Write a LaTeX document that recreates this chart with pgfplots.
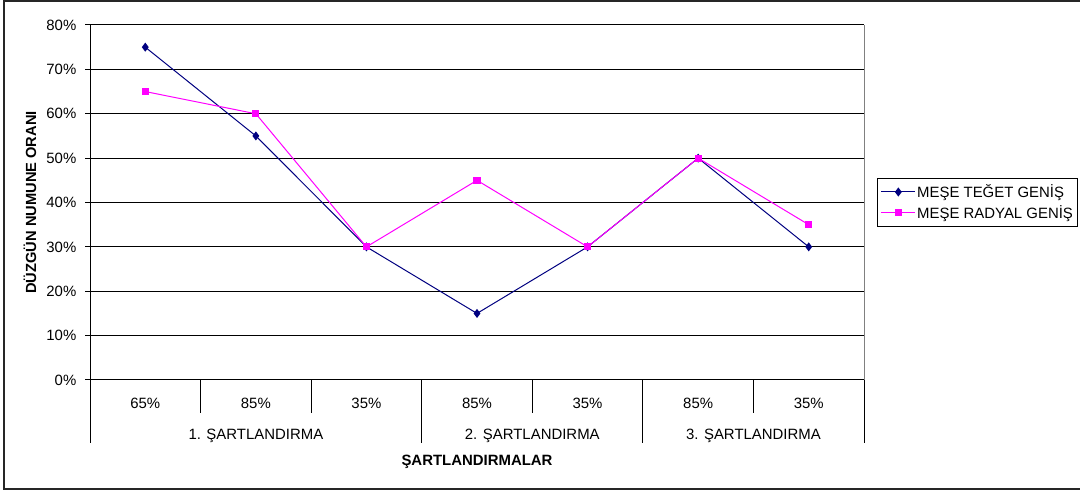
\documentclass[border=0pt]{standalone}
\usepackage{pgfplots}
\pgfplotsset{compat=1.18}
\usepackage{fontspec}
\setmainfont{Liberation Sans}

\definecolor{tegetblue}{RGB}{0,0,128}
\definecolor{radyalmag}{RGB}{255,0,255}

\begin{document}
\begin{tikzpicture}[x=0.75pt,y=0.75pt,font=\fontsize{11.2}{13.4}\selectfont]
\useasboundingbox (0,0) rectangle (1080,491);
% chart frame (open on the right)
\draw[line width=1.4pt,black!85] (1090,490) -- (4,490) -- (4,2) -- (1090,2);

\begin{axis}[
  at={(67.5pt,83.25pt)}, anchor=south west,
  width=580.5pt, height=266.25pt, scale only axis,
  xmin=0, xmax=7, ymin=0, ymax=80,
  axis x line*=bottom, axis y line*=left,
  axis line style={black,line width=0.75pt},
  xtick=\empty,
  ytick={0,10,...,80},
  yticklabels={0\%,10\%,20\%,30\%,40\%,50\%,60\%,70\%,80\%},
  yticklabel style={xshift=-3pt},
  tick align=outside, major tick length=3.75pt,
  tick style={black,line width=0.75pt},
  ymajorgrids, grid style={black,line width=0.75pt},
  clip=false,
  legend style={at={(1.0168,0.569)}, anchor=north west, draw=black,
    line width=0.75pt, fill=white, inner xsep=2.5pt, inner ysep=3.5pt,
    row sep=2.4pt, font=\fontsize{11.2}{13.4}\selectfont,
    nodes={inner sep=1pt}},
  legend cell align=left,
  legend image code/.code={%
    \draw[#1,mark=none] (0pt,0pt) -- (25.5pt,0pt);
    \draw[#1,only marks] plot coordinates {(12.75pt,0pt)};},
]
% plot area right border
\draw[gray,line width=0.75pt] (rel axis cs:1,0) -- (rel axis cs:1,1);

\addplot[tegetblue, line width=0.75pt, mark=diamond*, mark size=2.8pt,
  mark options={solid,fill=tegetblue,draw=tegetblue}]
  coordinates {(0.5,75) (1.5,55) (2.5,30) (3.5,15) (4.5,30) (5.5,50) (6.5,30)};
\addlegendentry{MEŞE TEĞET GENİŞ}

\addplot[radyalmag, line width=0.75pt, mark=square*, mark size=2.3pt,
  mark options={solid,fill=radyalmag,draw=radyalmag}]
  coordinates {(0.5,65) (1.5,60) (2.5,30) (3.5,45) (4.5,30) (5.5,50) (6.5,35)};
\addlegendentry{MEŞE RADYAL GENİŞ}

% category separators of the two-level axis
\pgfplotsinvokeforeach{1,2,4,6}{
  \draw[black,line width=0.75pt] (axis cs:#1,0) -- ++(0,-24.75pt);}
\pgfplotsinvokeforeach{0,3,5,7}{
  \draw[black,line width=0.75pt] (axis cs:#1,0) -- ++(0,-47.25pt);}

% inner level: humidity levels
\node[anchor=base,inner sep=0pt] at ([yshift=-21.4pt]axis cs:0.5,0) {65\%};
\node[anchor=base,inner sep=0pt] at ([yshift=-21.4pt]axis cs:1.5,0) {85\%};
\node[anchor=base,inner sep=0pt] at ([yshift=-21.4pt]axis cs:2.5,0) {35\%};
\node[anchor=base,inner sep=0pt] at ([yshift=-21.4pt]axis cs:3.5,0) {85\%};
\node[anchor=base,inner sep=0pt] at ([yshift=-21.4pt]axis cs:4.5,0) {35\%};
\node[anchor=base,inner sep=0pt] at ([yshift=-21.4pt]axis cs:5.5,0) {85\%};
\node[anchor=base,inner sep=0pt] at ([yshift=-21.4pt]axis cs:6.5,0) {35\%};

% outer level: conditioning groups
\node[anchor=base,inner sep=0pt] at ([yshift=-44.6pt]axis cs:1.5,0) {1. ŞARTLANDIRMA};
\node[anchor=base,inner sep=0pt] at ([yshift=-44.6pt]axis cs:4,0) {2. ŞARTLANDIRMA};
\node[anchor=base,inner sep=0pt] at ([yshift=-44.6pt]axis cs:6,0) {3. ŞARTLANDIRMA};

% axis titles
\node[anchor=base,inner sep=0pt,font=\fontsize{11.2}{13.4}\selectfont\bfseries]
  at ([yshift=-64.3pt]axis cs:3.5,0) {ŞARTLANDIRMALAR};
\node[rotate=90,inner sep=0pt,font=\fontsize{11}{13}\selectfont\bfseries]
  at ([xshift=-45pt]rel axis cs:0,0.5) {DÜZGÜN NUMUNE ORANI};
\end{axis}
\end{tikzpicture}
\end{document}
